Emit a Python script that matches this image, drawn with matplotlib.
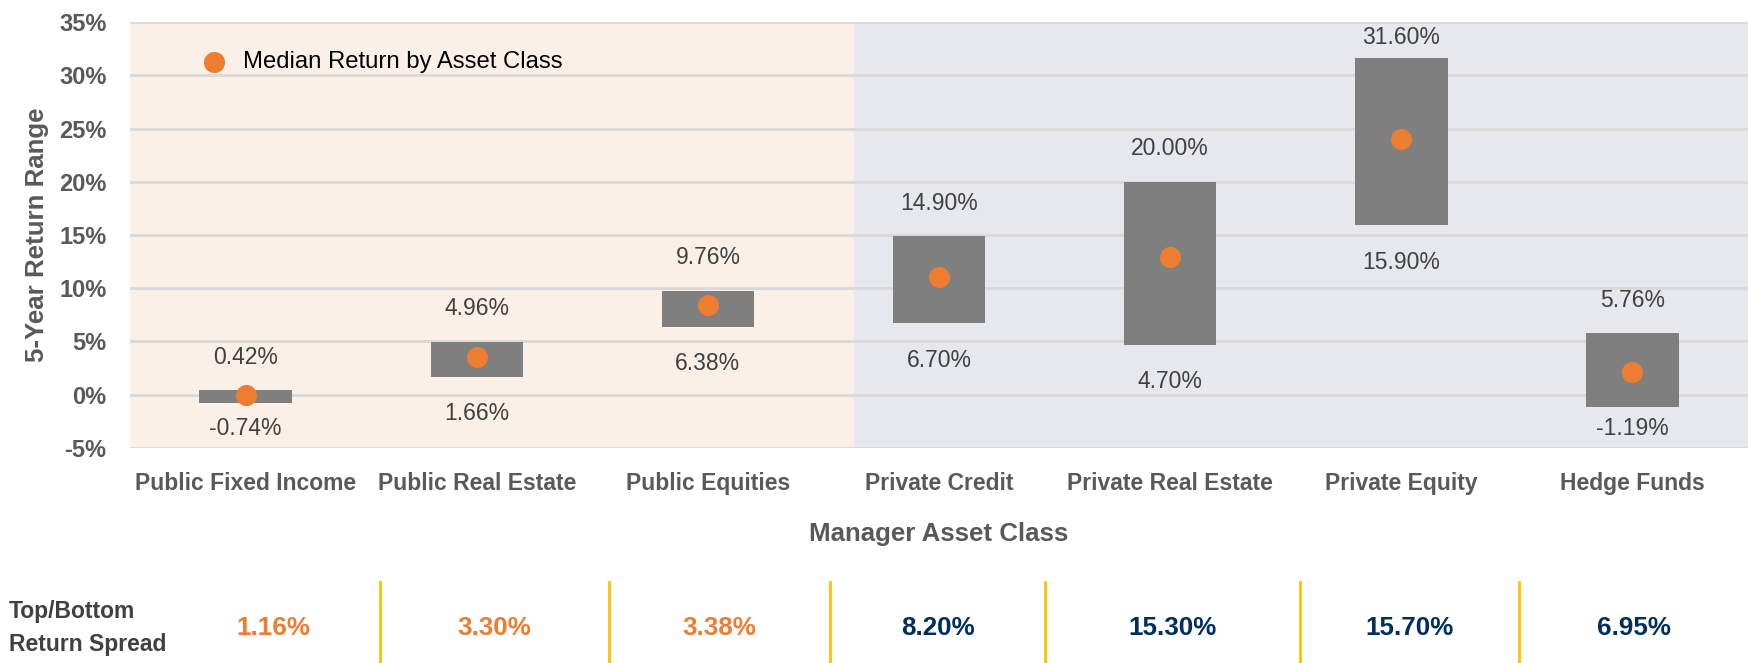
import matplotlib
matplotlib.use("Agg")
import matplotlib.pyplot as plt
import matplotlib.transforms as mtransforms

plt.rcParams['font.family'] = ['Liberation Sans', 'DejaVu Sans']

# data
categories = ["Public Fixed Income", "Public Real Estate", "Public Equities",
              "Private Credit", "Private Real Estate", "Private Equity",
              "Hedge Funds"]
top = [0.42, 4.96, 9.76, 14.90, 20.00, 31.60, 5.76]
bottom = [-0.74, 1.66, 6.38, 6.70, 4.70, 15.90, -1.19]
median = [0.0, 3.55, 8.46, 11.05, 12.95, 24.0, 2.15]
spread = ["1.16%", "3.30%", "3.38%", "8.20%", "15.30%", "15.70%", "6.95%"]
spread_colors = ["#ED7D31"] * 3 + ["#002E5D"] * 4
yticks = [-5, 0, 5, 10, 15, 20, 25, 30, 35]

# table separators (x in category units)
seps = [0.58, 1.57, 2.53, 3.46, 4.56, 5.51]

fig = plt.figure(figsize=(17.48, 6.63), dpi=100)
ax = fig.add_axes([0.0744, 0.3243, 0.9256, 0.6425])

x = list(range(len(categories)))
ax.axvspan(-0.5, 2.63, color="#FBF0E8", zorder=0)
ax.axvspan(2.63, 6.5, color="#E6E8ED", zorder=0)
for t in yticks:
    ax.axhline(t, color="#D9D9D9", lw=2, zorder=1)

heights = [t - b for t, b in zip(top, bottom)]
ax.bar(x, heights, bottom=bottom, width=0.4, color="#7F7F7F", zorder=2)
ax.scatter(x, median, s=200, color="#ED7D31", zorder=3,
           label="Median Return by Asset Class")

# labels sit above/below the bars, kept inside the plot area
for i in x:
    ty = min(top[i] + 3.1, 33.5)
    by = max(bottom[i] - 3.45, -3.15)
    ax.text(i, ty, f"{top[i]:.2f}%", ha="center", va="center",
            fontsize=16.5, color="#404040")
    ax.text(i, by, f"{bottom[i]:.2f}%", ha="center", va="center",
            fontsize=16.5, color="#404040")

ax.set_xlim(-0.5, 6.5)
ax.set_ylim(-5, 35)
ax.set_yticks(yticks)
ax.set_yticklabels([f"{t}%" for t in yticks], fontsize=17,
                   fontweight="bold", color="#595959")
ax.set_xticks(x)
ax.set_xticklabels(categories, fontsize=16.5, fontweight="bold",
                   color="#595959")
ax.tick_params(length=0, axis="y", pad=17)
ax.tick_params(length=0, axis="x", pad=17)
for s in ax.spines.values():
    s.set_visible(False)

ax.set_ylabel("5-Year Return Range", fontsize=18.6, fontweight="bold",
              color="#595959", labelpad=7)
ax.set_xlabel("Manager Asset Class", fontsize=18.6, fontweight="bold",
              color="#595959", labelpad=20)

ax.legend(loc="upper left", bbox_to_anchor=(0.024, 0.982), frameon=False,
          fontsize=17.2, handletextpad=0.2, labelcolor="#000000")

# bottom spread row
trans = mtransforms.blended_transform_factory(ax.transData, fig.transFigure)
fig.text(0.005, 0.053, "Top/Bottom\nReturn Spread", fontsize=16.5,
         fontweight="bold", color="#404040", va="center", ha="left",
         linespacing=1.55)
edges = [-0.34] + seps + [6.5]
for i in x:
    cx = (edges[i] + edges[i + 1]) / 2
    ax.text(cx, 0.053, spread[i], transform=trans, ha="center", va="center",
            fontsize=18.7, fontweight="bold", color=spread_colors[i])
for s in seps:
    ax.plot([s, s], [0.0, 0.122], transform=trans, color="#FFC000", lw=2,
            clip_on=False)

fig.savefig("out.png", dpi=100)
